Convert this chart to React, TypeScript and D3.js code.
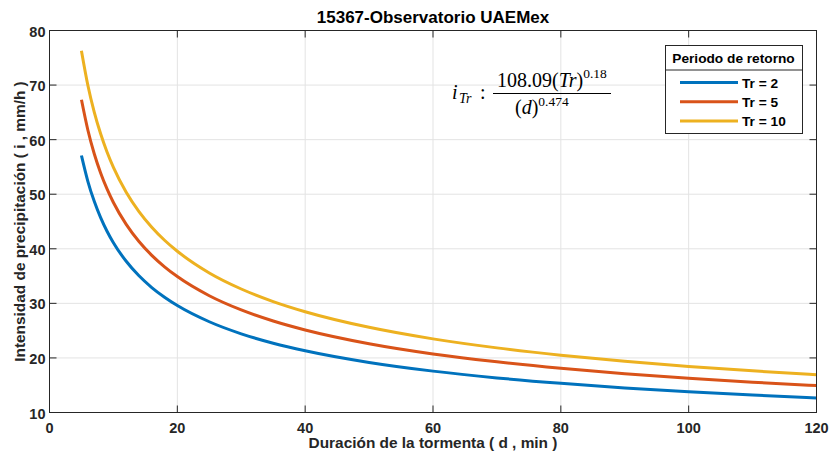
import React from "react";
import * as d3 from "d3";

const durations = [5, 6, 7, 8, 9, 10, 12, 14, 16, 18, 20, 25, 30, 35, 40, 50, 60, 70, 80, 90, 100, 110, 120];
const tr2 = [57.09, 52.37, 48.69, 45.71, 43.22, 41.11, 37.71, 35.05, 32.9, 31.12, 29.6, 26.63, 24.42, 22.7, 21.31, 19.17, 17.58, 16.34, 15.34, 14.51, 13.8, 13.19, 12.66];
const tr5 = [67.32, 61.77, 57.42, 53.9, 50.97, 48.48, 44.47, 41.33, 38.8, 36.7, 34.91, 31.4, 28.8, 26.77, 25.13, 22.61, 20.74, 19.28, 18.09, 17.11, 16.28, 15.56, 14.93];
const tr10 = [76.27, 69.97, 65.05, 61.07, 57.74, 54.93, 50.38, 46.83, 43.96, 41.57, 39.55, 35.57, 32.63, 30.33, 28.47, 25.61, 23.49, 21.84, 20.5, 19.38, 18.44, 17.63, 16.91];
const seriesNames = ["Tr = 2", "Tr = 5", "Tr = 10"];
const seriesColors = ["#0072BD", "#D95319", "#EDB120"];
const xTicks = [0, 20, 40, 60, 80, 100, 120];
const yTicks = [10, 20, 30, 40, 50, 60, 70, 80];

export default function App() {
  const W = 829, H = 454;
  const L = 49.5, R = 816.5, T = 30.5, B = 412.5;
  const x = d3.scaleLinear().domain([0, 120]).range([L, R]);
  const y = d3.scaleLinear().domain([10, 80]).range([B, T]);
  const line = d3.line<[number, number]>().x(d => x(d[0])).y(d => y(d[1])).curve(d3.curveMonotoneX);
  const all = [tr2, tr5, tr10];
  const font = "'Liberation Sans', Arial, sans-serif";
  const serif = "'Liberation Serif', 'Times New Roman', serif";
  return (
    <svg width={W} height={H} style={{ position: "absolute", left: 0, top: 0, background: "#fff" }} fontFamily={font}>
      <rect x={0} y={0} width={W} height={H} fill="#fff" />
      {xTicks.map(t => (
        <line key={"gx" + t} x1={x(t)} x2={x(t)} y1={T} y2={B} stroke="#e3e3e3" strokeWidth={1} />
      ))}
      {yTicks.map(t => (
        <line key={"gy" + t} x1={L} x2={R} y1={y(t)} y2={y(t)} stroke="#e3e3e3" strokeWidth={1} />
      ))}
      {all.map((s, i) => (
        <path key={i} d={line(durations.map((d, j) => [d, s[j]] as [number, number])) || ""} fill="none" stroke={seriesColors[i]} strokeWidth={3} />
      ))}
      <rect x={L} y={T} width={R - L} height={B - T} fill="none" stroke="#262626" strokeWidth={1} />
      {xTicks.map(t => (
        <g key={"tx" + t}>
          <line x1={x(t)} x2={x(t)} y1={B} y2={B - 7} stroke="#262626" />
          <line x1={x(t)} x2={x(t)} y1={T} y2={T + 7} stroke="#262626" />
          <text x={x(t)} y={B + 20} textAnchor="middle" fontSize={14.5} fontWeight="bold" fill="#262626">{t}</text>
        </g>
      ))}
      {yTicks.map(t => (
        <g key={"ty" + t}>
          <line x1={L} x2={L + 7} y1={y(t)} y2={y(t)} stroke="#262626" />
          <line x1={R} x2={R - 7} y1={y(t)} y2={y(t)} stroke="#262626" />
          <text x={L - 4} y={y(t) + 6} textAnchor="end" fontSize={14.5} fontWeight="bold" fill="#262626">{t}</text>
        </g>
      ))}
      <text x={(L + R) / 2} y={22.5} textAnchor="middle" fontSize={17} fontWeight="bold" fill="#000">15367-Observatorio UAEMex</text>
      <text x={(L + R) / 2} y={448} textAnchor="middle" fontSize={15.4} fontWeight="bold" fill="#262626">Duración de la tormenta ( d , min )</text>
      <text transform={`translate(25,${(T + B) / 2}) rotate(-90)`} textAnchor="middle" fontSize={15.4} fontWeight="bold" fill="#262626">Intensidad de precipitación ( i , mm/h )</text>
      {/* formula */}
      <g fontFamily={serif} fill="#000">
        <text x={452} y={99} fontSize={20} fontStyle="italic">i</text>
        <text x={459} y={103} fontSize={14} fontStyle="italic">Tr</text>
        <text x={480} y={99} fontSize={20}>:</text>
        <text x={497} y={87} fontSize={20}>108.09(<tspan fontStyle="italic">Tr</tspan>)<tspan fontSize={13.5} dy={-9}>0.18</tspan></text>
        <line x1={493} x2={611} y1={93.5} y2={93.5} stroke="#000" strokeWidth={1} />
        <text x={515} y={114} fontSize={20}>(<tspan fontStyle="italic">d</tspan>)<tspan fontSize={13.5} dy={-8}>0.474</tspan></text>
      </g>
      {/* legend */}
      <g>
        <rect x={665.5} y={45.5} width={137} height={88} fill="#fff" stroke="#262626" strokeWidth={1} />
        <line x1={665.5} x2={802.5} y1={70} y2={70} stroke="#262626" strokeWidth={1} />
        <text x={733.5} y={63} textAnchor="middle" fontSize={13.7} fontWeight="bold" fill="#000">Periodo de retorno</text>
        {seriesNames.map((n, i) => (
          <g key={n}>
            <line x1={680} x2={738} y1={82.5 + i * 19.3} y2={82.5 + i * 19.3} stroke={seriesColors[i]} strokeWidth={3} />
            <text x={742} y={87.5 + i * 19.3} fontSize={13.7} fontWeight="bold" fill="#000">{n}</text>
          </g>
        ))}
      </g>
    </svg>
  );
}
